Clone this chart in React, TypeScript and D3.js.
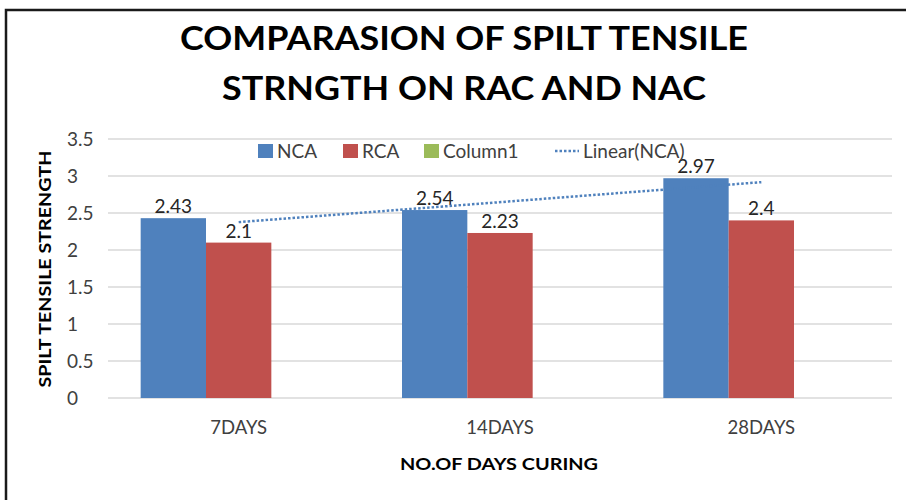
import React, { useRef, useEffect } from "react";
import * as d3 from "d3";

const categories = ["7DAYS", "14DAYS", "28DAYS"];
const seriesNames = ["NCA", "RCA", "Column1"];
const ncaValues = [2.43, 2.54, 2.97];
const rcaValues = [2.1, 2.23, 2.4];
const column1Values: (number | null)[] = [null, null, null];
const yTicks = [0, 0.5, 1, 1.5, 2, 2.5, 3, 3.5];
const colors = ["#4F81BD", "#C0504D", "#9BBB59"];

const FONT = "Lato, 'Open Sans', sans-serif";

const App = () => {
  const chartRef = useRef<SVGSVGElement>(null);

  useEffect(() => {
    const svg = d3.select(chartRef.current);
    svg.selectAll("*").remove();

    const width = 906;
    const height = 500;
    const plot = { left: 108, right: 892, top: 139, bottom: 398 };

    svg.append("rect").attr("width", width).attr("height", height).attr("fill", "#fff");

    // outer border (only top and left show in the frame)
    svg
      .append("path")
      .attr("d", `M6,${height} L6,10 L${width},10`)
      .attr("fill", "none")
      .attr("stroke", "#1a1a1a")
      .attr("stroke-width", 2.5);

    const x0 = d3.scaleBand().domain(categories).range([plot.left, plot.right]).padding(0);
    const x1 = d3
      .scaleBand()
      .domain(seriesNames)
      .range([0, x0.bandwidth()])
      .paddingInner(0)
      .paddingOuter(0.5);
    const y = d3.scaleLinear().domain([0, 3.5]).range([plot.bottom, plot.top]);

    // gridlines
    svg
      .append("g")
      .selectAll("line")
      .data(yTicks)
      .enter()
      .append("line")
      .attr("x1", plot.left)
      .attr("x2", plot.right)
      .attr("y1", (d) => y(d))
      .attr("y2", (d) => y(d))
      .attr("stroke", "#d9d9d9")
      .attr("stroke-width", 1.5);

    // y tick labels
    svg
      .append("g")
      .selectAll("text")
      .data(yTicks)
      .enter()
      .append("text")
      .attr("x", 67)
      .attr("y", (d) => y(d) + 7)
      .attr("font-family", FONT)
      .attr("font-size", 19)
      .attr("fill", "#404040")
      .text((d) => String(d));

    const table = categories.map((c, i) => ({
      cat: c,
      vals: [ncaValues[i], rcaValues[i], column1Values[i]],
    }));

    // bars
    const groups = svg
      .append("g")
      .selectAll("g")
      .data(table)
      .enter()
      .append("g")
      .attr("transform", (d) => `translate(${x0(d.cat)},0)`);

    groups
      .selectAll("rect")
      .data((d) => d.vals.map((v, j) => ({ v, s: seriesNames[j], j })).filter((e) => e.v != null))
      .enter()
      .append("rect")
      .attr("x", (d) => x1(d.s) as number)
      .attr("width", x1.bandwidth())
      .attr("y", (d) => y(d.v as number))
      .attr("height", (d) => plot.bottom - y(d.v as number))
      .attr("fill", (d) => colors[d.j]);

    // trendline Linear(NCA): least squares fit over category index
    const xs = ncaValues.map((_, i) => i + 1);
    const mx = d3.mean(xs) as number;
    const my = d3.mean(ncaValues) as number;
    const slope =
      d3.sum(xs, (xi, i) => (xi - mx) * (ncaValues[i] - my)) /
      d3.sum(xs, (xi) => (xi - mx) * (xi - mx));
    const intercept = my - slope * mx;
    const trend = categories.map((c, i) => ({ cat: c, v: intercept + slope * (i + 1) }));
    const trendLine = d3
      .line<{ cat: string; v: number }>()
      .x((d) => (x0(d.cat) as number) + x0.bandwidth() / 2)
      .y((d) => y(d.v));
    svg
      .append("path")
      .datum([trend[0], trend[trend.length - 1]])
      .attr("d", trendLine)
      .attr("fill", "none")
      .attr("stroke", colors[0])
      .attr("stroke-width", 2.5)
      .attr("stroke-dasharray", "2.5,2");

    // data labels
    groups
      .selectAll("text")
      .data((d) => d.vals.map((v, j) => ({ v, s: seriesNames[j] })).filter((e) => e.v != null))
      .enter()
      .append("text")
      .attr("x", (d) => (x1(d.s) as number) + x1.bandwidth() / 2)
      .attr("y", (d) => y(d.v as number) - 5)
      .attr("text-anchor", "middle")
      .attr("font-family", FONT)
      .attr("font-size", 19)
      .attr("fill", "#262626")
      .text((d) => String(d.v));

    // x category labels
    svg
      .append("g")
      .selectAll("text")
      .data(categories)
      .enter()
      .append("text")
      .attr("x", (d) => (x0(d) as number) + x0.bandwidth() / 2)
      .attr("y", 434)
      .attr("text-anchor", "middle")
      .attr("font-family", FONT)
      .attr("font-size", 18.5)
      .attr("fill", "#404040")
      .text((d) => d);

    // legend
    const legendItems = [
      { name: "NCA", x: 258, color: colors[0] },
      { name: "RCA", x: 343, color: colors[1] },
      { name: "Column1", x: 424, color: colors[2] },
    ];
    const legend = svg.append("g");
    legendItems.forEach((it) => {
      legend
        .append("rect")
        .attr("x", it.x)
        .attr("y", 144)
        .attr("width", 15)
        .attr("height", 14)
        .attr("fill", it.color);
      legend
        .append("text")
        .attr("x", it.x + 19)
        .attr("y", 158)
        .attr("font-family", FONT)
        .attr("font-size", 19)
        .attr("fill", "#404040")
        .text(it.name);
    });
    legend
      .append("line")
      .attr("x1", 555)
      .attr("x2", 579)
      .attr("y1", 151)
      .attr("y2", 151)
      .attr("stroke", colors[0])
      .attr("stroke-width", 2.5)
      .attr("stroke-dasharray", "2.5,2");
    legend
      .append("text")
      .attr("x", 583)
      .attr("y", 158)
      .attr("font-family", FONT)
      .attr("font-size", 19)
      .attr("fill", "#404040")
      .text("Linear(NCA)");

    // titles
    svg
      .append("text")
      .attr("x", 464)
      .attr("y", 50)
      .attr("text-anchor", "middle")
      .attr("font-family", FONT)
      .attr("font-weight", "bold")
      .attr("font-size", 32)
      .attr("textLength", 568)
      .attr("lengthAdjust", "spacingAndGlyphs")
      .attr("fill", "#000")
      .text("COMPARASION OF SPILT TENSILE");
    svg
      .append("text")
      .attr("x", 464)
      .attr("y", 100)
      .attr("text-anchor", "middle")
      .attr("font-family", FONT)
      .attr("font-weight", "bold")
      .attr("font-size", 32)
      .attr("textLength", 484)
      .attr("lengthAdjust", "spacingAndGlyphs")
      .attr("fill", "#000")
      .text("STRNGTH ON RAC AND NAC");

    svg
      .append("text")
      .attr("transform", "translate(51,269) rotate(-90)")
      .attr("text-anchor", "middle")
      .attr("font-family", FONT)
      .attr("font-weight", "bold")
      .attr("font-size", 17)
      .attr("textLength", 237)
      .attr("lengthAdjust", "spacingAndGlyphs")
      .attr("fill", "#000")
      .text("SPILT TENSILE STRENGTH");

    svg
      .append("text")
      .attr("x", 499)
      .attr("y", 470)
      .attr("text-anchor", "middle")
      .attr("font-family", FONT)
      .attr("font-weight", "bold")
      .attr("font-size", 17.5)
      .attr("textLength", 198)
      .attr("lengthAdjust", "spacingAndGlyphs")
      .attr("fill", "#000")
      .text("NO.OF DAYS CURING");
  }, []);

  return (
    <svg
      ref={chartRef}
      width={906}
      height={500}
      style={{ position: "absolute", left: 0, top: 0, display: "block" }}
    />
  );
};

export default App;
